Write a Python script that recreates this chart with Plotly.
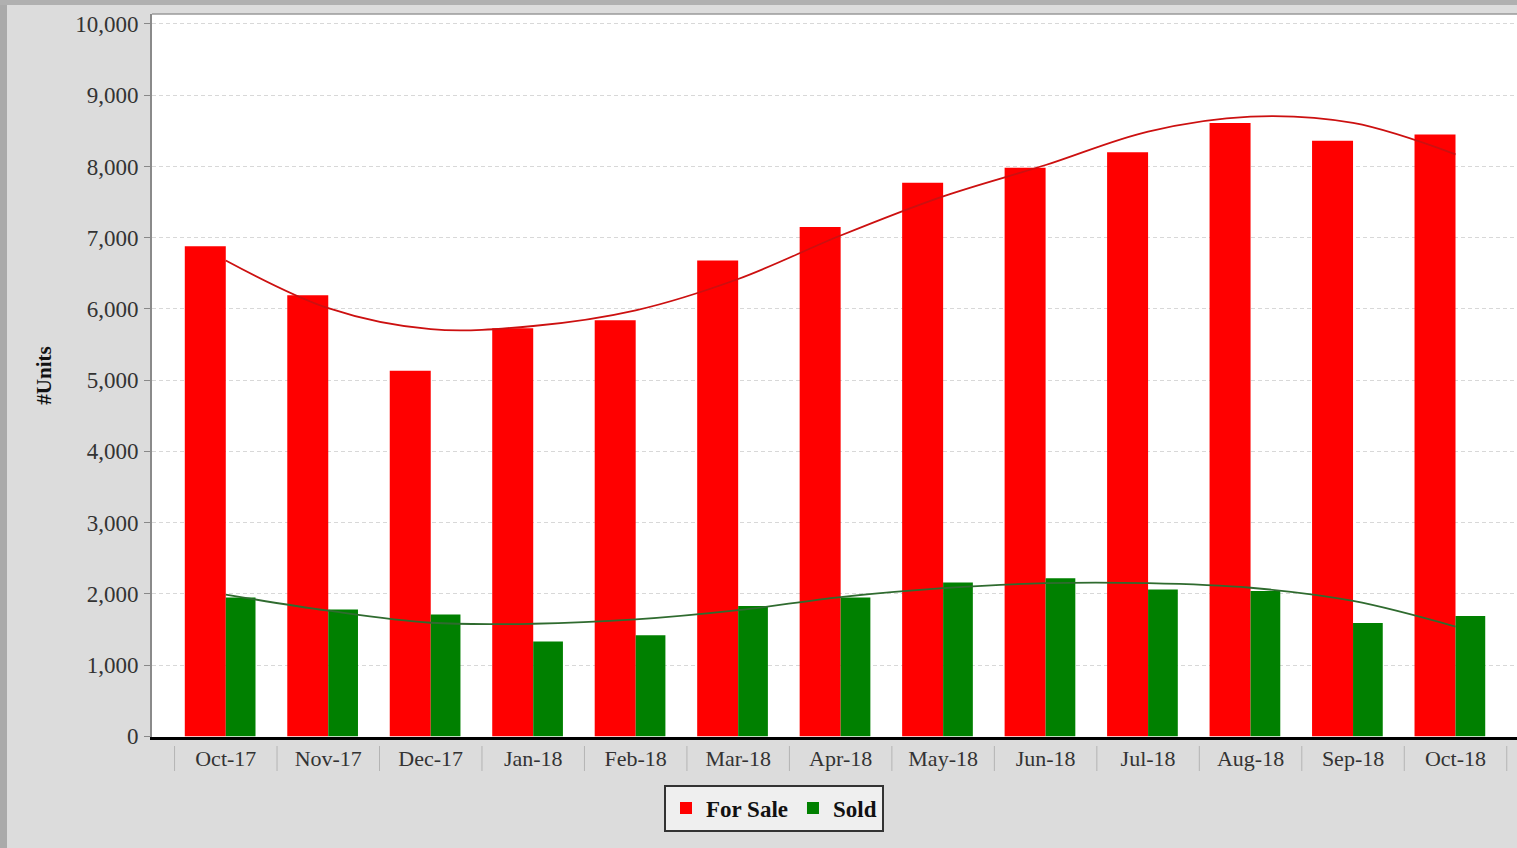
import plotly.graph_objects as go

categories = ["Oct-17", "Nov-17", "Dec-17", "Jan-18", "Feb-18", "Mar-18", "Apr-18",
              "May-18", "Jun-18", "Jul-18", "Aug-18", "Sep-18", "Oct-18"]
for_sale = [6880, 6190, 5130, 5730, 5840, 6680, 7150, 7770, 7980, 8200, 8610, 8360, 8450]
sold = [1950, 1780, 1710, 1330, 1420, 1830, 1950, 2160, 2220, 2060, 2040, 1590, 1690]
for_sale_trend = [6680, 6010, 5715, 5760, 5980, 6420, 7030, 7580, 8020, 8490, 8700, 8610, 8170]
sold_trend = [1990, 1763, 1594, 1580, 1640, 1770, 1955, 2080, 2150, 2150, 2085, 1900, 1540]
y_ticks = [0, 1000, 2000, 3000, 4000, 5000, 6000, 7000, 8000, 9000, 10000]
y_tick_labels = ["0", "1,000", "2,000", "3,000", "4,000", "5,000", "6,000",
                 "7,000", "8,000", "9,000", "10,000"]

W, H = 1517, 848
ML, MR, MT, MB = 152, 0, 14, 111
PW, PH = W - ML - MR, H - MT - MB

def px_x(p):
    return (p - ML) / PW

def px_y(p):
    return (H - MB - p) / PH

FONT = "Liberation Serif"
xs = list(range(len(categories)))

fig = go.Figure()
fig.add_trace(go.Bar(x=xs, y=for_sale, name="For Sale", marker=dict(color="#ff0000", line=dict(width=0)),
                     width=0.40, offset=-0.40))
fig.add_trace(go.Bar(x=xs, y=sold, name="Sold", marker=dict(color="#008000", line=dict(width=0)),
                     width=0.29, offset=0.0))
fig.add_trace(go.Scatter(x=xs, y=for_sale_trend, mode="lines", showlegend=False,
                         line=dict(color="#cc1010", width=1.8, shape="spline", smoothing=1.0)))
fig.add_trace(go.Scatter(x=xs, y=sold_trend, mode="lines", showlegend=False,
                         line=dict(color="#2f6b2f", width=1.8, shape="spline", smoothing=1.0)))

shapes = []
# category separators below axis
for i in range(len(categories) + 1):
    shapes.append(dict(type="line", xref="x", yref="paper", x0=i - 0.5, x1=i - 0.5,
                       y0=px_y(746), y1=px_y(771), line=dict(color="#b4b4b4", width=1)))
# outer frame strips
shapes.append(dict(type="rect", xref="paper", yref="paper", x0=px_x(0), x1=px_x(7),
                   y0=px_y(H), y1=px_y(0), fillcolor="#aaaaaa", line=dict(width=0), layer="below"))
shapes.append(dict(type="rect", xref="paper", yref="paper", x0=px_x(0), x1=px_x(W),
                   y0=px_y(5), y1=px_y(0), fillcolor="#b0b0b0", line=dict(width=0), layer="below"))
# plot top border
shapes.append(dict(type="line", xref="paper", yref="paper", x0=0, x1=1, y0=1, y1=1,
                   line=dict(color="#9a9a9a", width=1.5)))

fig.update_layout(
    width=W, height=H,
    margin=dict(l=ML, r=MR, t=MT, b=MB, pad=0),
    paper_bgcolor="#dcdcdc", plot_bgcolor="#ffffff",
    barmode="overlay",
    shapes=shapes,
    font=dict(family=FONT, color="#333333"),
    xaxis=dict(
        type="linear", range=[-0.72, 12.6],
        tickmode="array", tickvals=xs, ticktext=categories,
        tickfont=dict(family=FONT, size=22, color="#333333"),
        ticks="",
        showgrid=False, zeroline=False,
        showline=True, linecolor="#000000", linewidth=3,
    ),
    yaxis=dict(
        range=[-10, 10140],
        tickmode="array", tickvals=y_ticks, ticktext=y_tick_labels,
        tickfont=dict(family=FONT, size=23, color="#333333"),
        ticks="outside", ticklen=6, tickcolor="#888888",
        ticklabelstandoff=1,
        showgrid=True, gridcolor="#d8d8d8", griddash="4px,3px", gridwidth=1,
        zeroline=False,
        showline=True, linecolor="#8a8a8a", linewidth=2,
        title=dict(text="#Units", font=dict(family=FONT, size=21, color="#111111", weight="bold"),
                   standoff=18),
    ),
    legend=dict(
        orientation="h", x=px_x(774), y=px_y(808), xanchor="center", yanchor="middle",
        bgcolor="#efefef", bordercolor="#333333", borderwidth=2,
        font=dict(family=FONT, size=23, color="#111111", weight="bold"),
        itemwidth=30, tracegroupgap=0,
    ),
    showlegend=True,
)

fig.write_html("out.html", config={"displayModeBar": False},
               post_script="document.body.style.margin='0';document.body.style.padding='0';")
